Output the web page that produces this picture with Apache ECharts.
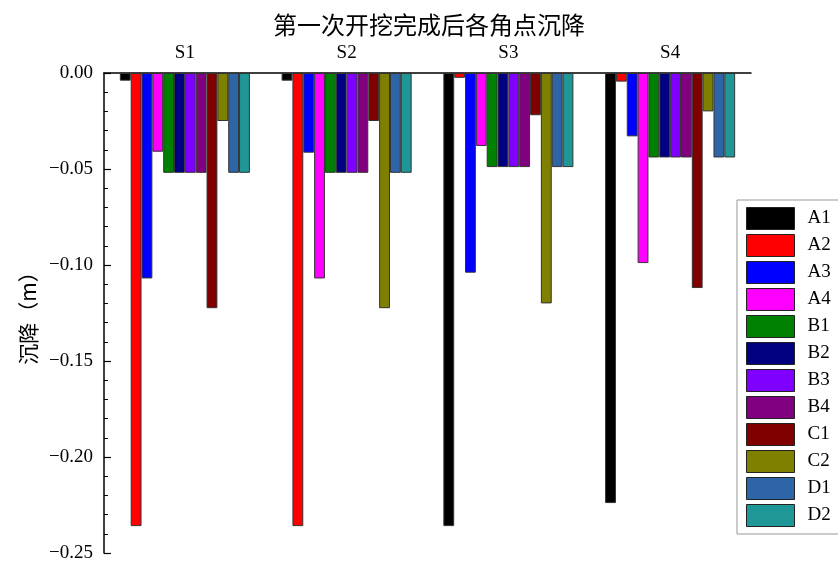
<!DOCTYPE html>
<html>
<head>
<meta charset="utf-8">
<script src="https://cdn.jsdelivr.net/npm/echarts@6/dist/echarts.min.js"></script>
<style>html,body{margin:0;padding:0;background:#fff}#c{width:838px;height:563px}</style>
</head>
<body>
<div id="c"></div>
<script>
var categories = ['S1', 'S2', 'S3', 'S4'];
var seriesNames = ['A1', 'A2', 'A3', 'A4', 'B1', 'B2', 'B3', 'B4', 'C1', 'C2', 'D1', 'D2'];
var A1 = [-0.004, -0.004, -0.236, -0.224];
var A2 = [-0.236, -0.236, -0.0025, -0.0045];
var A3 = [-0.107, -0.0415, -0.104, -0.033];
var A4 = [-0.041, -0.107, -0.038, -0.099];
var B1 = [-0.052, -0.052, -0.049, -0.044];
var B2 = [-0.052, -0.052, -0.049, -0.044];
var B3 = [-0.052, -0.052, -0.049, -0.044];
var B4 = [-0.052, -0.052, -0.049, -0.044];
var C1 = [-0.1225, -0.025, -0.022, -0.112];
var C2 = [-0.025, -0.1225, -0.120, -0.020];
var D1 = [-0.052, -0.052, -0.049, -0.044];
var D2 = [-0.052, -0.052, -0.049, -0.044];
var seriesValues = [A1, A2, A3, A4, B1, B2, B3, B4, C1, C2, D1, D2];
var colors = ['#000000', '#ff0000', '#0000ff', '#ff00ff', '#008000', '#000080', '#8000ff', '#800080', '#800000', '#808000', '#2e65a6', '#1f9797'];

var serif = '"Liberation Serif", "DejaVu Serif", "Noto Sans CJK SC", serif';
var chart = echarts.init(document.getElementById('c'), null, {renderer: 'canvas'});
var series = seriesNames.map(function (n, i) {
  return {
    name: n,
    type: 'bar',
    data: seriesValues[i],
    barGap: '0%',
    barCategoryGap: '19.6%',
    itemStyle: {color: colors[i], borderColor: '#333', borderWidth: 1},
    emphasis: {disabled: true}
  };
});
chart.setOption({
  animation: false,
  backgroundColor: '#fff',
  title: {
    text: '第一次开挖完成后各角点沉降',
    left: 268, top: 8,
    textStyle: {fontFamily: '"Noto Sans CJK SC", sans-serif', fontSize: 24, fontWeight: 'normal', color: '#000'}
  },
  legend: {
    orient: 'vertical',
    left: 737, top: 200,
    padding: [7, 60, 7, 9],
    itemWidth: 48, itemHeight: 22, itemGap: 4,
    icon: 'rect',
    borderColor: '#999', borderWidth: 1,
    itemStyle: {borderColor: '#222', borderWidth: 1},
    textStyle: {fontFamily: serif, fontSize: 19, lineHeight: 22, color: '#000', padding: [0, 0, 0, 8]},
    data: seriesNames
  },
  grid: {left: 104, right: 87, top: 73, bottom: 10, containLabel: false},
  xAxis: {
    type: 'category',
    data: categories,
    position: 'top',
    axisLine: {show: true, lineStyle: {color: '#000', width: 1.5}},
    axisTick: {show: false},
    axisLabel: {fontFamily: serif, fontSize: 19, color: '#000', margin: 10},
    splitLine: {show: false}
  },
  yAxis: {
    type: 'value',
    min: -0.25, max: 0, interval: 0.05,
    name: '沉降（m）',
    nameLocation: 'middle',
    nameRotate: 90,
    nameGap: 64,
    nameTextStyle: {fontFamily: '"Noto Sans CJK SC", sans-serif', fontSize: 21, color: '#000'},
    axisLine: {show: true, lineStyle: {color: '#000', width: 1.5}},
    axisTick: {show: true, inside: true, length: 7, lineStyle: {color: '#000', width: 1.2}},
    minorTick: {show: true, splitNumber: 5, length: 4, lineStyle: {color: '#000', width: 1}},
    axisLabel: {
      fontFamily: serif, fontSize: 19, color: '#000', margin: 11,
      formatter: function (v) { return (v < 0 ? '\u2212' : '') + Math.abs(v).toFixed(2); }
    },
    splitLine: {show: false}
  },
  series: series
});
</script>
</body>
</html>
